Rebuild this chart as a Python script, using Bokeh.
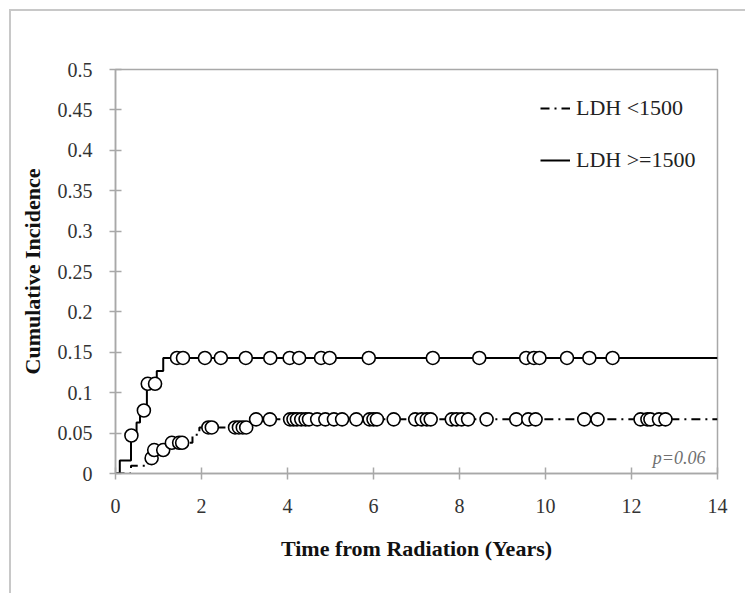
import numpy as np
from bokeh.plotting import figure
from bokeh.models import (FixedTicker, CustomJSTickFormatter, Legend, LegendItem,
                          Label, Range1d, ColumnDataSource)
from bokeh.embed import file_html
from bokeh.resources import INLINE

# ---- data ----
x_ticks = [0, 2, 4, 6, 8, 10, 12, 14]
y_ticks = [0, 0.05, 0.1, 0.15, 0.2, 0.25, 0.3, 0.35, 0.4, 0.45, 0.5]

# LDH >= 1500 (solid)
high_step_t = [0, 0.1, 0.36, 0.49, 0.57, 0.73, 0.96, 1.11, 14]
high_step_y = [0, 0.016, 0.047, 0.063, 0.078, 0.111, 0.127, 0.143, 0.143]
high_censor_t = [0.37, 0.66, 0.75, 0.92, 1.43, 1.57, 2.08, 2.45, 3.03, 3.6,
                 4.05, 4.27, 4.78, 4.98, 5.89, 7.38, 8.46, 9.55, 9.73, 9.86,
                 10.5, 11.02, 11.56]

# LDH < 1500 (dash-dot)
low_step_t = [0, 0.36, 0.76, 0.87, 1.2, 1.79, 1.95, 3.12, 14]
low_step_y = [0, 0.0096, 0.019, 0.029, 0.038, 0.048, 0.057, 0.067, 0.067]
low_censor_t = [0.84, 0.9, 1.11, 1.31, 1.48, 1.55, 2.16, 2.24, 2.78, 2.87,
                2.96, 3.04, 3.27, 3.59, 4.06, 4.14, 4.22, 4.32, 4.42, 4.5,
                4.69, 4.88, 5.08, 5.27, 5.6, 5.91, 6.0, 6.08, 6.47, 6.97,
                7.12, 7.24, 7.33, 7.82, 7.93, 8.05, 8.2, 8.63, 9.32, 9.6,
                9.77, 10.9, 11.21, 12.21, 12.37, 12.44, 12.64, 12.79]

series_labels = ["LDH <1500", "LDH >=1500"]
p_value_text = "p=0.06"


def level_at(step_t, step_y, t):
    idx = np.searchsorted(np.asarray(step_t), np.asarray(t), side="right") - 1
    return np.asarray(step_y)[idx]


SERIF = "Liberation Serif"
GREY = "#a8a8a8"

p = figure(width=736, height=584, output_backend="svg", toolbar_location=None,
           x_range=Range1d(0, 14), y_range=Range1d(0, 0.5),
           min_border_left=104, min_border_right=30,
           min_border_top=58, min_border_bottom=122)
p.styles = {"margin-left": "9px", "margin-top": "9px",
            "border-left": "2px solid #c8c8c8", "border-top": "2px solid #c8c8c8"}

p.background_fill_color = "white"
p.border_fill_color = "white"
p.outline_line_color = GREY
p.outline_line_width = 1.5
p.grid.visible = False

p.xaxis.ticker = FixedTicker(ticks=x_ticks)
p.yaxis.ticker = FixedTicker(ticks=y_ticks)
p.yaxis.formatter = CustomJSTickFormatter(code="return String(Math.round(tick*100)/100)")
p.xaxis.formatter = CustomJSTickFormatter(code="return String(Math.round(tick))")
p.axis.minor_tick_line_color = None
p.axis.major_tick_in = 6
p.axis.major_tick_out = 6
p.axis.major_tick_line_color = GREY
p.axis.major_tick_line_width = 1.5
p.axis.axis_line_color = GREY
p.axis.axis_line_width = 1.5
p.axis.major_label_text_font = SERIF
p.axis.major_label_text_font_size = "20px"
p.axis.major_label_text_color = "#333333"
p.axis.axis_label_text_font = SERIF
p.axis.axis_label_text_font_style = "bold"
p.axis.axis_label_text_font_size = "22px"
p.axis.axis_label_text_color = "#111111"
p.xaxis.axis_label = "Time from Radiation (Years)"
p.yaxis.axis_label = "Cumulative Incidence"
p.xaxis.major_label_standoff = 19
p.yaxis.major_label_standoff = 17
p.xaxis.axis_label_standoff = 20
p.yaxis.axis_label_standoff = 10

low_line = p.step(low_step_t, low_step_y, mode="after", line_color="black",
                  line_width=2, line_dash="9 5 2 5")
high_line = p.step(high_step_t, high_step_y, mode="after", line_color="black",
                   line_width=2)

low_src = ColumnDataSource(dict(t=low_censor_t,
                                y=level_at(low_step_t, low_step_y, low_censor_t)))
high_src = ColumnDataSource(dict(t=high_censor_t,
                                 y=level_at(high_step_t, high_step_y, high_censor_t)))
for src in (high_src, low_src):
    p.scatter("t", "y", source=src, marker="circle", size=13,
              fill_color="white", line_color="black", line_width=1.6)

legend = Legend(items=[LegendItem(label=series_labels[0], renderers=[low_line]),
                       LegendItem(label=series_labels[1], renderers=[high_line])],
                location=(425, 300), orientation="vertical",
                glyph_width=30, glyph_height=26, label_height=26,
                label_standoff=6, spacing=26, padding=0, margin=0,
                border_line_color=None, background_fill_alpha=0,
                label_text_font=SERIF, label_text_font_size="22px",
                label_text_color="#222222")
p.add_layout(legend)

p.add_layout(Label(x=14, y=0, x_offset=-12, y_offset=16, text=p_value_text,
                   text_align="right", text_baseline="middle",
                   text_font=SERIF, text_font_style="italic",
                   text_font_size="18px", text_color="#707070"))

open("out.html", "w").write(file_html(p, INLINE))
